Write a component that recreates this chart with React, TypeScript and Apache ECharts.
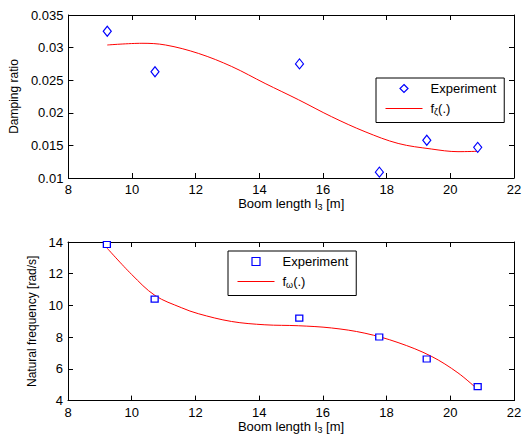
import React, { useEffect, useRef } from "react";
import * as echarts from "echarts";

// Experimental points (boom length in m)
const boomLengths = [9.22, 10.72, 15.26, 17.77, 19.26, 20.86];
const dampingRatios = [0.0325, 0.0263, 0.0275, 0.0109, 0.0158, 0.0147];
const naturalFreqs = [13.84, 10.4, 9.2, 8.01, 6.62, 4.88];

// Fitted curves
const fitDampX = [9.22, 10.31, 11.05, 12.09, 13.13, 14.18, 15.23, 16.27, 17.32, 18.36, 19.4, 20.24, 20.9];
const fitDampY = [0.0304, 0.03066, 0.0304, 0.0291, 0.0271, 0.0245, 0.022, 0.0194, 0.0171, 0.0153, 0.01445, 0.01404, 0.0141];
const fitFreqX = [9.22, 10, 10.73, 11.57, 12.09, 13.13, 14.18, 15.23, 16.27, 17.32, 18.36, 19.4, 20.24, 20.84];
const fitFreqY = [13.63, 11.95, 10.63, 9.85, 9.48, 8.99, 8.78, 8.72, 8.58, 8.25, 7.66, 6.8, 5.75, 4.74];

const xTicks = { min: 8, max: 22, interval: 2 };
const dampTicks = { min: 0.01, max: 0.035, interval: 0.005 };
const freqTicks = { min: 4, max: 14, interval: 2 };

const FONT = "Liberation Sans";
const FS = 13;

export default function App() {
  const ref = useRef<HTMLDivElement>(null);
  useEffect(() => {
    if (!ref.current) return;
    const chart = echarts.init(ref.current, null, { renderer: "svg" });

    const axisLine = { show: true, lineStyle: { color: "#000", width: 1 } };
    const tick = { show: true, inside: true, length: 5, lineStyle: { color: "#000" } };
    const label = { color: "#000", fontSize: FS, fontFamily: FONT };
    const rich = {
      n: { fontSize: FS, fontFamily: FONT, color: "#000" },
      s: { fontSize: 9, fontFamily: FONT, color: "#000", padding: [7, 0, 0, 0] },
    };

    const xAxisMain = (gi: number) => ({
      type: "value",
      gridIndex: gi,
      position: "bottom",
      ...xTicks,
      axisLine,
      axisTick: tick,
      axisLabel: { ...label, margin: 5 },
      splitLine: { show: false },
      name: "{n|Boom length l}{s|3}{n| [m]}",
      nameLocation: "middle",
      nameGap: 15,
      nameTextStyle: { rich },
    });
    const xAxisTop = (gi: number) => ({
      type: "value",
      gridIndex: gi,
      position: "top",
      ...xTicks,
      axisLine,
      axisTick: tick,
      axisLabel: { show: false },
      splitLine: { show: false },
    });
    const yAxisMain = (gi: number, t: any, name: string, gap: number) => ({
      type: "value",
      gridIndex: gi,
      position: "left",
      ...t,
      axisLine,
      axisTick: tick,
      axisLabel: { ...label, margin: 5 },
      splitLine: { show: false },
      name,
      nameLocation: "middle",
      nameGap: gap,
      nameTextStyle: { color: "#000", fontSize: 12, fontFamily: FONT },
    });
    const yAxisRight = (gi: number, t: any) => ({
      type: "value",
      gridIndex: gi,
      position: "right",
      ...t,
      axisLine,
      axisTick: tick,
      axisLabel: { show: false },
      splitLine: { show: false },
    });

    const legendBase = {
      orient: "vertical",
      padding: [4, 8, 6, 9],
      itemWidth: 37,
      itemHeight: 10,
      itemGap: 7,
      borderColor: "#000",
      borderWidth: 1,
      borderRadius: 0,
      backgroundColor: "#fff",
      selectedMode: false,
      textStyle: { color: "#000", fontSize: FS, fontFamily: FONT, padding: [0, 0, 0, 3], rich },
      formatter: (name: string) => {
        if (name.startsWith("exp")) return "{n|Experiment}";
        if (name === "fit1") return "{n|f}{s|ζ}{n|(.)}";
        return "{n|f}{s|ω}{n|(.)}";
      },
    };

    const pairs = (xs: number[], ys: number[]) => xs.map((x, i) => [x, ys[i]]);

    // Markers-only series (line type with invisible line, so the legend icon keeps its aspect)
    const markerSeries = (name: string, xi: number, yi: number, ys: number[], symbol: string, size: number[]) => ({
      name,
      type: "line",
      xAxisIndex: xi,
      yAxisIndex: yi,
      data: pairs(boomLengths, ys),
      symbol,
      symbolSize: size,
      showSymbol: true,
      showAllSymbol: true,
      lineStyle: { width: 0, opacity: 0 },
      itemStyle: { color: "#fff", borderColor: "#0000ff", borderWidth: 1.2 },
      z: 3,
    });

    const expLegend = (name: string) => ({
      name,
      lineStyle: { opacity: 0 },
      itemStyle: { color: "#fff", borderColor: "#0000ff", borderWidth: 1.2 },
    });
    const fitLegend = (name: string) => ({
      name,
      itemStyle: { opacity: 0 },
      lineStyle: { color: "#ff0000", width: 1 },
    });

    chart.setOption({
      animation: false,
      backgroundColor: "#fff",
      grid: [
        { left: 68, right: 11, top: 15, height: 163 },
        { left: 68, right: 11, top: 242, height: 163 },
      ],
      xAxis: [xAxisMain(0), xAxisTop(0), xAxisMain(1), xAxisTop(1)],
      yAxis: [
        yAxisMain(0, dampTicks, "Damping ratio", 42),
        yAxisRight(0, dampTicks),
        yAxisMain(1, freqTicks, "Natural frequency [rad/s]", 24),
        yAxisRight(1, freqTicks),
      ],
      legend: [
        { ...legendBase, left: 376, top: 78, data: [expLegend("exp1"), fitLegend("fit1")] },
        { ...legendBase, left: 228, top: 251, data: [expLegend("exp2"), fitLegend("fit2")] },
      ],
      series: [
        {
          name: "fit1",
          type: "line",
          xAxisIndex: 0,
          yAxisIndex: 0,
          data: pairs(fitDampX, fitDampY),
          smooth: 0.35,
          symbol: "none",
          lineStyle: { color: "#ff0000", width: 1 },
          itemStyle: { color: "#ff0000" },
          z: 2,
        },
        markerSeries("exp1", 0, 0, dampingRatios, "diamond", [8, 10]),
        {
          name: "fit2",
          type: "line",
          xAxisIndex: 2,
          yAxisIndex: 2,
          data: pairs(fitFreqX, fitFreqY),
          smooth: 0.35,
          symbol: "none",
          lineStyle: { color: "#ff0000", width: 1 },
          itemStyle: { color: "#ff0000" },
          z: 2,
        },
        markerSeries("exp2", 2, 2, naturalFreqs, "rect", [7, 6]),
      ],
    });
    return () => chart.dispose();
  }, []);
  return <div ref={ref} style={{ width: 525, height: 435, position: "absolute", left: 0, top: 0 }} />;
}
